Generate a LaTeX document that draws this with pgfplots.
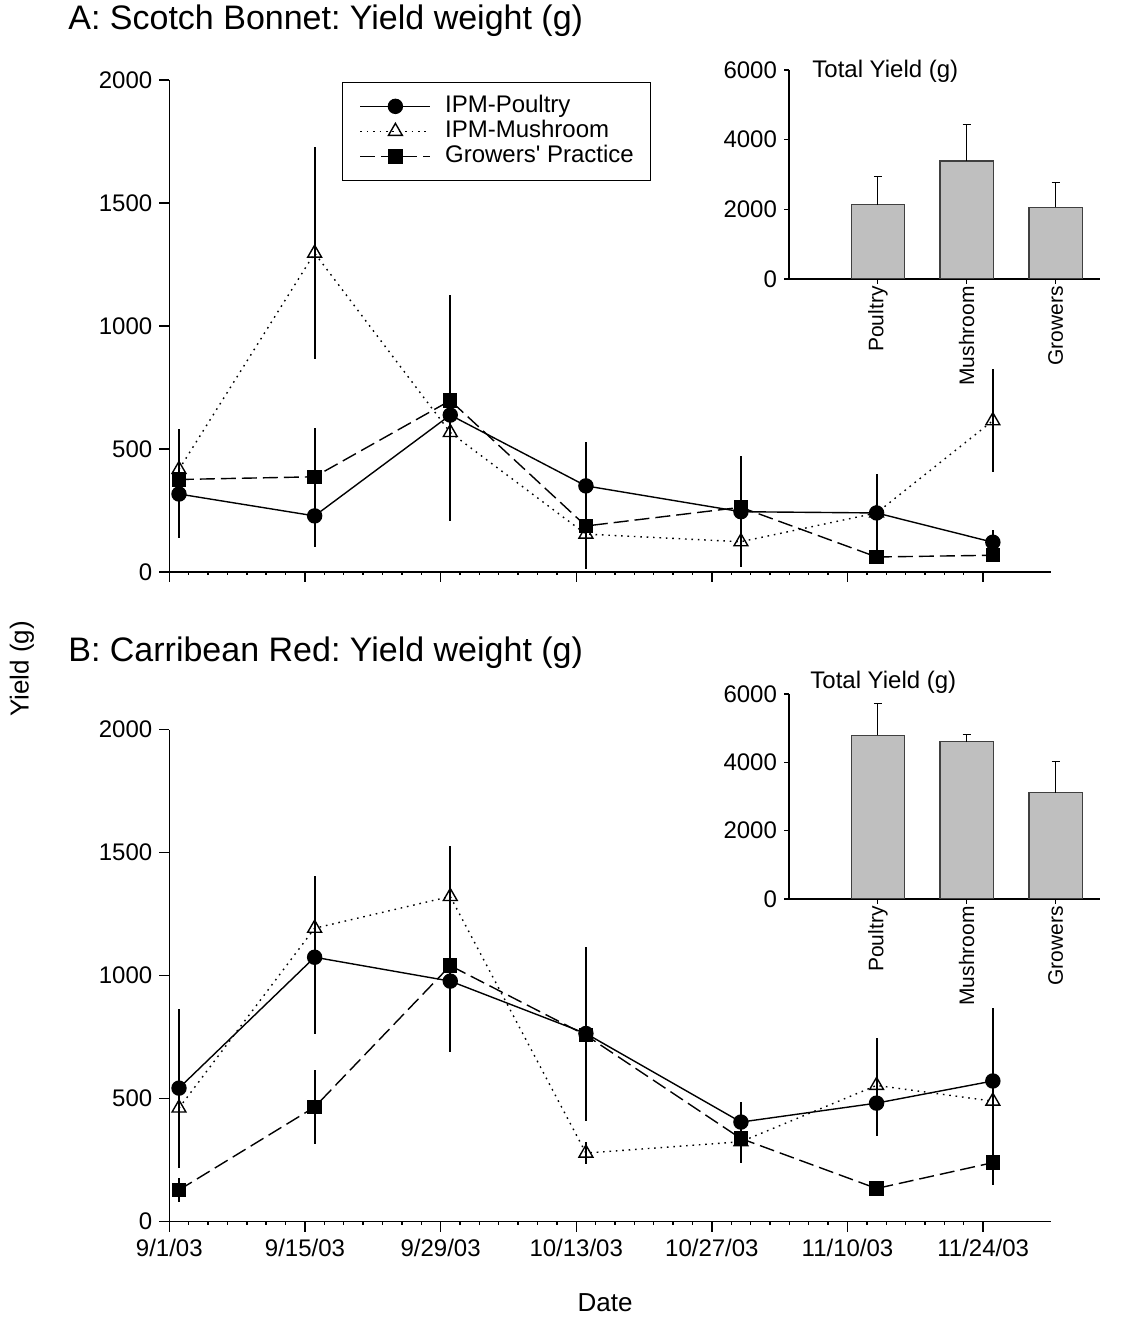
\documentclass[border=0pt]{standalone}
\usepackage{fontspec}
\setmainfont{Liberation Sans}[Ligatures=TeXOff]
\usepackage{pgfplots}
\pgfplotsset{compat=1.18}
\usepackage{pgfplotstable}
\frenchspacing

% d = days after 9/1/03; p/m/g = poultry, mushroom, growers; *e = error
\pgfplotstableread{
d  p    pe   m    me   g    ge
1  317  180  417  163  376  50
15 228  125  1296 430  387  197
29 638  250  567  360  697  430
43 350  180  154  140  187  100
59 245  225  123  70   263  205
73 240  160  240  100  61   25
85 121  50   615  210  68   28
}\scotch
\pgfplotstableread{
d  p    pe   m    me   g    ge
1  543  320  462  245  129  47
15 1075 314  1193 213  466  150
29 978  290  1322 207  1041 100
43 765  350  279  45   758  350
59 405  80   325  50   338  100
73 482  135  554  193  135  15
85 572  297  490  150  240  89
}\carib
\pgfplotstableread{
x tot  err
1 2130 810
2 3390 1040
3 2060 720
}\totA
\pgfplotstableread{
x tot  err
1 4790 940
2 4600 220
3 3110 910
}\totB

\pgfplotsset{
  main/.style={
    scale only axis, width=440.85pt, height=246pt,
    xmin=0, xmax=91, ymin=0, ymax=2000,
    axis lines=left, axis line style={-, line width=0.7pt},
    tick align=outside, tick style={black, line width=0.7pt},
    major tick length=5pt, minor tick length=1.5pt,
    xtick={0,14,...,84}, minor x tick num=6,
    ytick={0,500,...,2000},
    tick label style={font=\fontsize{12}{14}\selectfont},
    /pgf/number format/assume math mode=true,
    /pgf/number format/1000 sep={},
    clip=false,
    legend image code/.code={
      \draw[mark repeat=2,mark phase=2] plot coordinates {(0pt,0pt) (17.5pt,0pt) (35pt,0pt)};},
  },
  inset/.style={
    scale only axis, width=155.5pt,
    xmin=0, xmax=3.5, ymin=0, ymax=6000,
    axis lines=left, axis line style={-, line width=0.6pt},
    tick align=outside, major tick length=2.5pt, tick style={black, line width=0.6pt},
    xtick={1,2,3}, xticklabels={Poultry,Mushroom,Growers},
    x tick label style={rotate=90, anchor=east, inner sep=1pt,
      font=\fontsize{10.5}{12}\selectfont},
    ytick={0,2000,4000,6000},
    y tick label style={font=\fontsize{12}{14}\selectfont},
    /pgf/number format/assume math mode=true,
    /pgf/number format/1000 sep={},
    ybar, bar width=0.6,
  },
  ebar/.style={error bars/.cd, y dir=both, y explicit, error mark=none,
    error bar style={line width=1pt, solid}},
  poultry/.style={black, line width=0.7pt, mark=*, mark size=3.5pt,
    mark options={solid, fill=black}},
  mushroom/.style={black, line width=0.7pt, dash pattern=on 0.8pt off 2.4pt,
    mark=triangle, mark size=4pt, mark options={solid, fill=white}},
  growers/.style={black, line width=0.7pt, dash pattern=on 7.5pt off 3pt,
    mark=square*, mark size=3.25pt, mark options={solid, fill=black}},
  totbar/.style={fill=black!25, draw=black!75, line width=0.6pt,
    error bars/.cd, y dir=plus, y explicit, error mark=-,
    error bar style={black, line width=0.6pt}},
}

\begin{document}
\begin{tikzpicture}
\useasboundingbox (0,0) rectangle (572.5pt,659pt);

% A: Scotch Bonnet
\begin{axis}[main, at={(84.65pt,373pt)}, anchor=south west,
    xticklabels={},
    legend style={at={(0.196,0.996)}, anchor=north west, draw=black, line width=0.6pt,
      font=\fontsize{12}{14}\selectfont, inner xsep=8.5pt, inner ysep=6.3pt,
      row sep=1.3pt, column sep=7pt,
      nodes={inner sep=0pt, text height=8.6pt, text depth=2.6pt}},
    legend cell align=left]
\addplot[poultry, ebar] table[x=d, y=p, y error=pe] {\scotch};
\addplot[mushroom, ebar] table[x=d, y=m, y error=me] {\scotch};
\addplot[growers, ebar] table[x=d, y=g, y error=ge] {\scotch};
\legend{IPM-Poultry, IPM-Mushroom, Growers' Practice}
\end{axis}

% B: Carribean Red
\begin{axis}[main, at={(84.65pt,48.15pt)}, anchor=south west,
    xticklabels={9/1/03,9/15/03,9/29/03,10/13/03,10/27/03,11/10/03,11/24/03}]
\addplot[poultry, ebar] table[x=d, y=p, y error=pe] {\carib};
\addplot[mushroom, ebar] table[x=d, y=m, y error=me] {\carib};
\addplot[growers, ebar] table[x=d, y=g, y error=ge] {\carib};
\end{axis}

% insets: total yield
\begin{axis}[inset, at={(394.5pt,519.5pt)}, anchor=south west, height=104.5pt]
\addplot[totbar] table[x=x, y=tot, y error=err] {\totA};
\end{axis}
\begin{axis}[inset, at={(394.5pt,209.5pt)}, anchor=south west, height=102.5pt]
\addplot[totbar] table[x=x, y=tot, y error=err] {\totB};
\end{axis}

\node[anchor=base west, inner sep=0pt, font=\fontsize{17}{20}\selectfont] at (34pt,644pt) {A: Scotch Bonnet: Yield weight (g)};
\node[anchor=base west, inner sep=0pt, font=\fontsize{17}{20}\selectfont] at (34pt,328pt) {B: Carribean Red: Yield weight (g)};
\node[anchor=base west, inner sep=0pt, font=\fontsize{12}{14}\selectfont] at (406pt,620pt) {Total Yield (g)};
\node[anchor=base west, inner sep=0pt, font=\fontsize{12}{14}\selectfont] at (405pt,314.5pt) {Total Yield (g)};
\node[rotate=90, inner sep=0pt, font=\fontsize{13}{15}\selectfont] at (11pt,324.5pt) {Yield (g)};
\node[inner sep=0pt, font=\fontsize{13}{15}\selectfont] at (302.5pt,7.5pt) {Date};
\end{tikzpicture}
\end{document}
